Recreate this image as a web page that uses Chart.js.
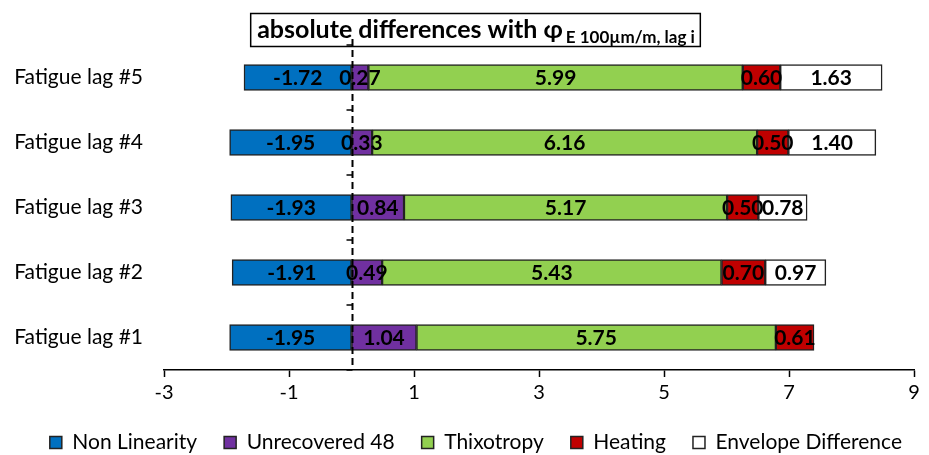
<!DOCTYPE html>
<html>
<head>
<meta charset="utf-8">
<script src="https://cdn.jsdelivr.net/npm/chart.js@4.4.1/dist/chart.umd.min.js"></script>
<style>
  html, body { margin: 0; padding: 0; background: #fff; }
  #wrap { width: 929px; height: 455px; }
</style>
</head>
<body>
<div id="wrap"><canvas id="myChart" width="929" height="455"></canvas></div>
<script>
var categories = ['Fatigue lag #5', 'Fatigue lag #4', 'Fatigue lag #3', 'Fatigue lag #2', 'Fatigue lag #1'];
var nonLinearity = [-1.72, -1.95, -1.93, -1.91, -1.95];
var unrecovered48 = [0.27, 0.33, 0.84, 0.49, 1.04];
var thixotropy = [5.99, 6.16, 5.17, 5.43, 5.75];
var heating = [0.60, 0.50, 0.50, 0.70, 0.61];
var envelopeDiff = [1.63, 1.40, 0.78, 0.97, null];
var xTicks = [-3, -1, 1, 3, 5, 7, 9];

var FONT = 'Lato, "Open Sans", sans-serif';

// labels in the middle of each bar segment
var barLabels = {
  id: 'barLabels',
  afterDatasetsDraw: function(chart) {
    var c = chart.ctx;
    c.save();
    c.font = 'bold 21px ' + FONT;
    c.fillStyle = '#000';
    c.textAlign = 'center';
    c.textBaseline = 'middle';
    chart.data.datasets.forEach(function(ds, i) {
      var meta = chart.getDatasetMeta(i);
      meta.data.forEach(function(bar, j) {
        var v = ds.data[j];
        if (v === null || v === undefined) return;
        c.fillText(v.toFixed(2), (bar.x + bar.base) / 2, bar.y + 1);
      });
    });
    c.restore();
  }
};

// dashed zero line, title box
var zeroAxis = {
  id: 'zeroAxis',
  beforeDraw: function(chart) {
    var c = chart.ctx;
    c.save();
    c.fillStyle = '#fff';
    c.fillRect(0, 0, chart.width, chart.height);
    var main = 'absolute differences with φ';
    var sub = 'E 100µm/m, lag i';
    c.font = 'bold 25px ' + FONT;
    var w1 = c.measureText(main).width;
    c.font = 'bold 17px ' + FONT;
    var w2 = c.measureText(sub).width + 3;
    var left = 476 - (w1 + w2) / 2;
    c.strokeStyle = '#000';
    c.lineWidth = 1.5;
    c.strokeRect(left - 6.5, 13.5, w1 + w2 + 12, 33);
    c.fillStyle = '#000';
    c.textBaseline = 'alphabetic';
    c.textAlign = 'left';
    c.font = 'bold 25px ' + FONT;
    c.fillText(main, left, 38);
    c.font = 'bold 17px ' + FONT;
    c.fillText(sub, left + w1 + 3, 43);
    c.restore();
  },
  afterDatasetsDraw: function(chart) {
    var c = chart.ctx;
    var a = chart.chartArea;
    var x0 = Math.round(chart.scales.x.getPixelForValue(0)) + 0.5;
    c.save();
    c.strokeStyle = '#000';
    c.lineWidth = 2;
    c.setLineDash([7, 4]);
    c.beginPath();
    c.moveTo(x0, a.top - 6);
    c.lineTo(x0, a.bottom);
    c.stroke();
    c.setLineDash([]);
    c.lineWidth = 1.5;
    var n = chart.data.labels.length;
    var step = (a.bottom - a.top) / n;
    for (var k = 0; k <= n; k++) {
      var yy = Math.round(a.top + k * step);
      c.beginPath();
      c.moveTo(x0 - 6, yy);
      c.lineTo(x0, yy);
      c.stroke();
    }
    c.restore();
  }
};

var ctx = document.getElementById('myChart').getContext('2d');
var myChart = new Chart(ctx, {
  type: 'bar',
  data: {
    labels: categories,
    datasets: [
      { label: 'Non Linearity', data: nonLinearity, backgroundColor: '#0070C0' },
      { label: 'Unrecovered 48', data: unrecovered48, backgroundColor: '#7030A0' },
      { label: 'Thixotropy', data: thixotropy, backgroundColor: '#92D050' },
      { label: 'Heating', data: heating, backgroundColor: '#C00000' },
      { label: 'Envelope Difference', data: envelopeDiff, backgroundColor: '#FFFFFF' }
    ].map(function(d) {
      d.borderColor = '#222';
      d.borderWidth = 1.5;
      d.borderSkipped = false;
      d.barThickness = 26;
      return d;
    })
  },
  options: {
    indexAxis: 'y',
    responsive: false,
    animation: false,
    layout: { padding: { top: 45, right: 0, left: 0, bottom: -8 } },
    scales: {
      x: {
        stacked: true,
        min: -3,
        max: 9,
        afterBuildTicks: function(scale) {
          scale.ticks = xTicks.map(function(v) { return { value: v }; });
        },
        afterFit: function(scale) { scale.height = scale.height - 4; },
        grid: { display: true, drawOnChartArea: false, drawTicks: true, tickLength: 7, tickColor: '#000', tickWidth: 1.5 },
        border: { display: true, color: '#000', width: 1.5 },
        ticks: { color: '#000', font: { family: FONT, size: 20 }, padding: 4 }
      },
      y: {
        stacked: true,
        afterFit: function(scale) { scale.width = 164; },
        grid: { display: false, drawTicks: false },
        border: { display: false },
        ticks: { color: '#000', font: { family: FONT, size: 21 }, padding: 21 }
      },
      // empty right-hand strip so the plot ends at 9 while the legend can use the full width
      yRight: {
        position: 'right',
        afterFit: function(scale) { scale.width = 15; },
        grid: { display: false, drawTicks: false },
        border: { display: false },
        ticks: { display: false }
      }
    },
    plugins: {
      legend: {
        position: 'bottom',
        align: 'end',
        labels: {
          color: '#000',
          font: { family: FONT, size: 21 },
          boxWidth: 12,
          boxHeight: 12,
          padding: 27
        }
      },
      tooltip: { enabled: false }
    }
  },
  plugins: [barLabels, zeroAxis]
});
</script>
</body>
</html>
